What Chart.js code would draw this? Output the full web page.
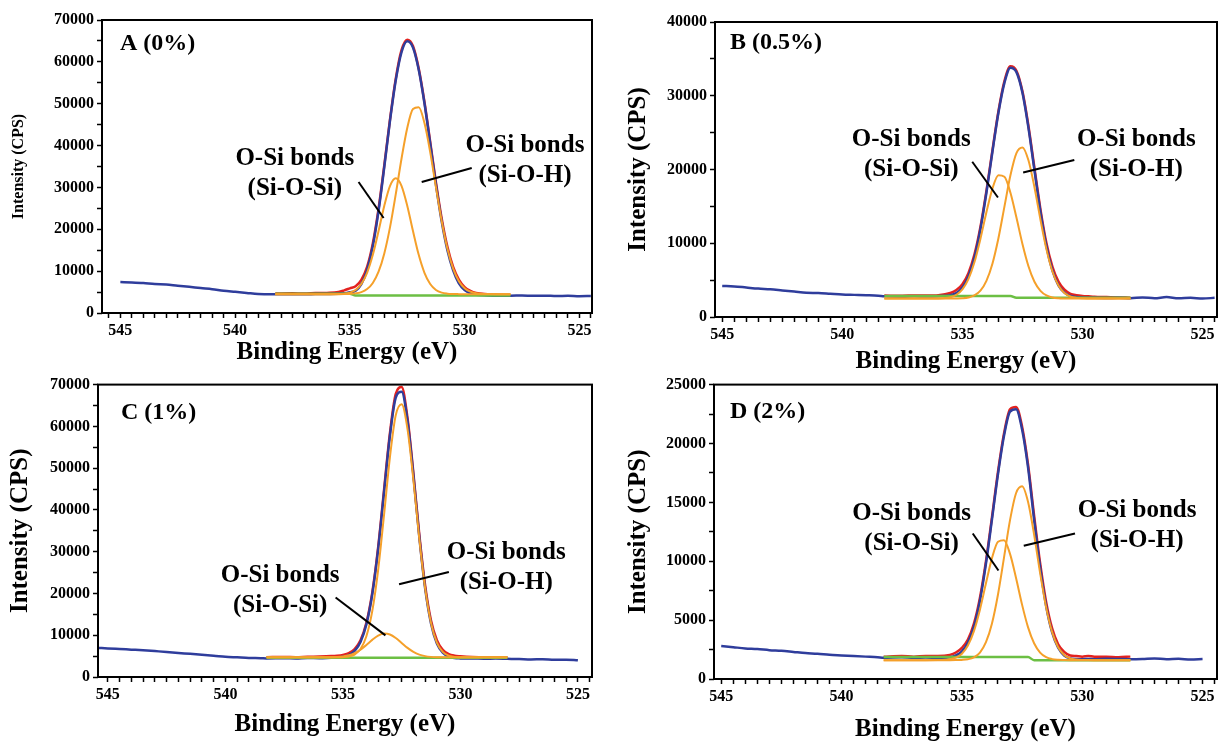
<!DOCTYPE html>
<html>
<head>
<meta charset="utf-8">
<script src="https://cdn.jsdelivr.net/npm/chart.js@4.4.1/dist/chart.umd.min.js"></script>
<style>
  html, body { margin: 0; padding: 0; background: #fff; }
  body { width: 1218px; height: 746px; position: relative; overflow: hidden; }
  .panel { position: absolute; }
</style>
</head>
<body>
<div class="panel" style="left:0;top:0;width:600px;height:372px"><canvas id="chartA"></canvas></div>
<div class="panel" style="left:600px;top:0;width:618px;height:380px"><canvas id="chartB"></canvas></div>
<div class="panel" style="left:0;top:372px;width:600px;height:374px"><canvas id="chartC"></canvas></div>
<div class="panel" style="left:600px;top:372px;width:618px;height:374px"><canvas id="chartD"></canvas></div>
<script>
// binding energies (eV)
const fitEnergy = [538.25, 537.5, 537, 536.5, 536, 535.5, 535.25, 535, 534.75, 534.5, 534.25, 534, 533.75, 533.5, 533.25, 533,
  532.75, 532.5, 532.25, 532, 531.75, 531.5, 531.25, 531, 530.75, 530.5, 530.25, 530, 529.75, 529.5, 529, 528.5, 528];
const wideLeftEnergy = [545.4, 545, 544.5, 544, 543.5, 543, 542.5, 542, 541.5, 541, 540.5, 540, 539.5, 539, 538.5];
const wideRightEnergy = [527.5, 527, 526.5, 526, 525.5, 525, 524.5];

// A (0%)
const aRaw = [null, 7400, 7300, 7150, 6900, 6800, 6500, 6250, 5950, 5700, 5300, 5050, 4800, 4550, 4450,
  4450, 4500, 4480, 4520, 4550, 4600, 4700, 4950, 5300, 6900, 10300, 16000, 24400, 34900, 46000, 55600,
  62300, 64900, 63400, 58100, 50100, 40500, 30700, 21900, 15000, 10200, 7100, 5500, 4700, 4350, 4200, 4150, 4150,
  4200, 4100, 4150, 4050, 4120, 4020, 4080];
const aFit = [4650, 4700, 4650, 4750, 4800, 5000, 5400, 5900, 6400, 7900, 11000, 16600, 24900, 35300, 46300, 56000,
  62800, 65300, 63800, 58400, 50400, 40900, 31200, 22600, 15800, 11000, 8000, 6200, 5300, 4800, 4500, 4350, 4300];
const aSiOSi = [4500, 4500, 4500, 4500, 4500, 4532, 4616, 4866, 5510, 6931, 9613, 13896, 19577, 25640, 30390, 32200,
  30390, 25640, 19577, 13896, 9613, 6931, 5510, 4866, 4616, 4532, 4508, 4500, 4500, 4500, 4500, 4500, 4500];
const aSiOH = [4500, 4500, 4500, 4500, 4500, 4505, 4519, 4563, 4686, 5000, 5716, 7183, 9865, 14233, 20515, 28400,
  36850, 44210, 48720, 49150, 45390, 38470, 30090, 21990, 15340, 10590, 7605, 5935, 5102, 4729, 4525, 4500, 4500];
const aBg = [4600, 4600, 4600, 4600, 4600, 4600, 4600, 4600, 4200, 4200, 4200, 4200, 4200, 4200, 4200, 4200,
  4200, 4200, 4200, 4200, 4200, 4200, 4200, 4200, 4200, 4200, 4200, 4200, 4200, 4200, 4200, 4200, 4200];

// B (0.5%)
const bRaw = [null, 4200, 4150, 4000, 3850, 3750, 3600, 3450, 3300, 3250, 3150, 3050, 3000, 2950, 2880,
  2800, 2750, 2800, 2780, 2820, 2950, 3250, 4000, 5500, 8050, 11900, 16850, 22400, 27700, 31750, 33800,
  33200, 30400, 25650, 19900, 14250, 9550, 6300, 4300, 3300, 2850, 2700, 2650, 2620, 2600, 2580, 2600, 2550,
  2650, 2550, 2700, 2550, 2600, 2500, 2600];
const bFit = [2900, 2880, 2920, 2900, 2950, 3250, 3650, 4450, 5950, 8450, 12200, 17100, 22600, 27900, 32000, 34000,
  33400, 30600, 25900, 20200, 14600, 10000, 6800, 4800, 3700, 3150, 2950, 2850, 2800, 2750, 2700, 2650, 2620];
const bSiOSi = [2500, 2500, 2500, 2500, 2517, 2688, 3014, 3740, 5131, 7416, 10587, 14205, 17414, 19229, 19016, 16853,
  13482, 9895, 6884, 4787, 3551, 2924, 2651, 2547, 2513, 2500, 2500, 2500, 2500, 2500, 2500, 2500, 2500];
const bSiOH = [2500, 2500, 2500, 2500, 2500, 2500, 2512, 2545, 2647, 2924, 3576, 4905, 7229, 10683, 14964, 19213,
  22228, 22999, 21248, 17592, 13194, 9172, 6164, 4271, 3254, 2782, 2593, 2527, 2507, 2500, 2500, 2500, 2500];
const bBg = [2850, 2850, 2850, 2850, 2850, 2850, 2850, 2850, 2850, 2850, 2850, 2850, 2850, 2850, 2850, 2850,
  2600, 2600, 2600, 2600, 2600, 2600, 2600, 2600, 2600, 2600, 2600, 2600, 2600, 2600, 2600, 2600, 2600];

// C (1%)
const cRaw = [6950, 6850, 6700, 6550, 6400, 6200, 6000, 5750, 5550, 5300, 5100, 4850, 4700, 4550, 4500,
  4450, 4500, 4450, 4550, 4500, 4600, 4650, 4850, 5250, 6250, 8400, 12600, 19800, 30600, 44200, 57700,
  66900, 68300, 61300, 48300, 33600, 21200, 12800, 8000, 5800, 4900, 4550, 4450, 4400, 4420, 4380, 4400, 4350,
  4300, 4200, 4250, 4100, 4150, 4000, null];
const cFit = [4750, 4800, 4750, 4850, 4900, 5000, 5100, 5300, 5700, 6700, 8800, 13000, 20200, 31000, 44700, 58300,
  67800, 69400, 62000, 48800, 34200, 21900, 13500, 8800, 6500, 5500, 5100, 4950, 4850, 4800, 4750, 4750, 4700];
const cSiOSi = [4700, 4700, 4700, 4700, 4702, 4726, 4778, 4909, 5191, 5716, 6551, 7666, 8886, 9900, 10386, 10172,
  9336, 8157, 6970, 6012, 5367, 4999, 4818, 4741, 4712, 4700, 4700, 4700, 4700, 4700, 4700, 4700, 4700];
const cSiOH = [4700, 4700, 4700, 4700, 4700, 4700, 4711, 4750, 4898, 5375, 6688, 9752, 15760, 25597, 38742, 52544,
  62691, 65318, 59359, 47199, 33209, 21195, 12926, 8245, 6013, 5121, 4816, 4728, 4706, 4700, 4700, 4700, 4700];
const cBg = [4600, 4600, 4600, 4600, 4600, 4600, 4600, 4600, 4600, 4600, 4600, 4600, 4600, 4600, 4600, 4600,
  4600, 4600, 4600, 4600, 4600, 4600, 4600, 4600, 4600, 4600, 4600, 4600, 4600, 4600, 4600, 4600, 4600];

// D (2%)
const dRaw = [null, 2800, 2700, 2600, 2550, 2450, 2400, 2300, 2200, 2150, 2050, 2000, 1950, 1900, 1850,
  1800, 1850, 1800, 1820, 1780, 1850, 2000, 2350, 3100, 4450, 6650, 9800, 13550, 17400, 20650, 22700,
  22900, 21200, 17950, 13550, 9500, 6200, 3950, 2650, 2000, 1750, 1700, 1680, 1700, 1680, 1720, 1700, 1680,
  1700, 1750, 1680, 1720, 1650, 1700, null];
const dFit = [1900, 1950, 1900, 1950, 1950, 2050, 2250, 2650, 3350, 4700, 6900, 10000, 13750, 17600, 20850, 22900,
  23100, 21450, 18200, 13900, 9850, 6550, 4300, 2950, 2300, 2000, 1950, 1900, 1950, 1900, 1900, 1850, 1900];
const dSiOSi = [1600, 1600, 1600, 1600, 1605, 1670, 1808, 2143, 2837, 4065, 5890, 8123, 10263, 11653, 11790, 10622,
  8579, 6315, 4383, 3036, 2247, 1854, 1687, 1626, 1607, 1600, 1600, 1600, 1600, 1600, 1600, 1600, 1600];
const dSiOH = [1600, 1600, 1600, 1600, 1600, 1600, 1606, 1622, 1679, 1842, 2250, 3124, 4718, 7178, 10313, 13489,
  15774, 16360, 15028, 12271, 9007, 6093, 3980, 2701, 2046, 1757, 1649, 1613, 1603, 1600, 1600, 1600, 1600];
const dBg = [1860, 1860, 1860, 1860, 1860, 1860, 1860, 1860, 1860, 1860, 1860, 1860, 1860, 1860, 1860, 1860,
  1860, 1860, 1860, 1600, 1600, 1600, 1600, 1600, 1600, 1600, 1600, 1600, 1600, 1600, 1600, 1600, 1600];

const rawEnergy = wideLeftEnergy.concat(fitEnergy, wideRightEnergy);
const serif = '"Liberation Serif", "Times New Roman", serif';
const tickFont = { family: serif, size: 16, weight: 'bold' };

const pts = (es, vs) => es.map((e, i) => ({ x: e, y: vs[i] }));

// frame, panel tag and the two peak notes
const panelDecor = {
  id: 'panelDecor',
  afterDatasetsDraw(chart, args, o) {
    const { ctx, chartArea: a, scales: { x, y } } = chart;
    ctx.save();
    ctx.strokeStyle = '#000';
    ctx.fillStyle = '#000';
    ctx.lineWidth = 2;
    ctx.strokeRect(a.left, a.top, a.right - a.left, a.bottom - a.top);
    ctx.textBaseline = 'middle';
    ctx.font = 'bold 24px ' + serif;
    ctx.textAlign = 'left';
    ctx.fillText(o.tag, a.left + o.tagDx, a.top + o.tagDy);
    ctx.font = 'bold 25px ' + serif;
    ctx.textAlign = 'center';
    o.notes.forEach(n => {
      const tx = x.getPixelForValue(n.at[0]);
      const ty = y.getPixelForValue(n.at[1]);
      ctx.fillText('O-Si bonds', tx, ty);
      ctx.fillText(n.sub, tx, ty + 30);
      ctx.beginPath();
      ctx.moveTo(x.getPixelForValue(n.from[0]), y.getPixelForValue(n.from[1]));
      ctx.lineTo(x.getPixelForValue(n.to[0]), y.getPixelForValue(n.to[1]));
      ctx.stroke();
    });
    ctx.restore();
  }
};

function makePanel(id, p) {
  const line = (vals, es, color, w) => ({
    data: pts(es, vals), borderColor: color, borderWidth: w, pointRadius: 0,
    cubicInterpolationMode: 'monotone', spanGaps: false
  });
  new Chart(document.getElementById(id), {
    type: 'line',
    data: {
      datasets: [
        line(p.siOH, fitEnergy, '#f5a02a', 2),
        line(p.siOSi, fitEnergy, '#f5a02a', 2),
        line(p.bg, fitEnergy, '#6cbf44', 2.5),
        line(p.raw, rawEnergy, '#2f3d9c', 2.5),
        line(p.fit, fitEnergy, '#e3221f', 2.5)
      ]
    },
    options: {
      responsive: true,
      maintainAspectRatio: false,
      animation: false,
      layout: { autoPadding: false, padding: { top: p.top, right: p.right, left: 0, bottom: 0 } },
      plugins: {
        legend: { display: false },
        tooltip: { enabled: false },
        panelDecor: { tag: p.tag, tagDx: p.tagDx, tagDy: p.tagDy, notes: p.notes }
      },
      scales: {
        x: {
          type: 'linear', reverse: true, min: p.eMin, max: p.eMax,
          border: { display: false },
          grid: { drawOnChartArea: false, tickLength: 5, tickColor: '#000', tickWidth: 1.5 },
          ticks: {
            stepSize: 0.5, autoSkip: false, maxRotation: 0, minRotation: 0, includeBounds: false,
            maxTicksLimit: 200, padding: 3, color: '#000', font: tickFont,
            callback: v => Math.abs(v % 5) < 1e-6 ? String(v) : ''
          },
          title: { display: true, text: 'Binding Energy (eV)', color: '#000',
            font: { family: serif, size: 25, weight: 'bold' }, padding: { top: 0, bottom: p.xTitlePad } },
          afterFit: s => { s.height = p.xHeight; }
        },
        y: {
          min: 0, max: p.yMax,
          border: { display: false },
          grid: { drawOnChartArea: false, tickLength: 5, tickColor: '#000', tickWidth: 1.5 },
          ticks: {
            stepSize: p.yStep, autoSkip: false, maxTicksLimit: 100, padding: 3, color: '#000', font: tickFont,
            callback: v => v % p.yLabelEvery === 0 ? String(v) : ''
          },
          title: { display: true, text: 'Intensity (CPS)', color: '#000',
            font: { family: serif, size: p.yTitleSize, weight: 'bold' }, padding: { top: p.yTitlePad, bottom: 0 } },
          afterFit: s => { s.width = p.yWidth; }
        }
      }
    },
    plugins: [panelDecor]
  });
}

makePanel('chartA', {
  raw: aRaw, fit: aFit, siOSi: aSiOSi, siOH: aSiOH, bg: aBg,
  eMin: 524.45, eMax: 545.8, yMax: 70000, yStep: 5000, yLabelEvery: 10000,
  top: 20, right: 8, yWidth: 102, xHeight: 59, xTitlePad: 4, yTitleSize: 16, yTitlePad: 9,
  tag: 'A (0%)', tagDx: 18, tagDy: 24,
  notes: [
    { sub: '(Si-O-Si)', at: [537.4, 36800], from: [534.62, 31300], to: [533.53, 22700] },
    { sub: '(Si-O-H)', at: [527.37, 39900], from: [529.69, 34650], to: [531.87, 31300] }
  ]
});
makePanel('chartB', {
  raw: bRaw, fit: bFit, siOSi: bSiOSi, siOH: bSiOH, bg: bBg,
  eMin: 524.4, eMax: 545.3, yMax: 40000, yStep: 5000, yLabelEvery: 10000,
  top: 22, right: 1, yWidth: 115, xHeight: 63, xTitlePad: 3, yTitleSize: 25, yTitlePad: 24,
  tag: 'B (0.5%)', tagDx: 15, tagDy: 21,
  notes: [
    { sub: '(Si-O-Si)', at: [537.13, 24100], from: [534.59, 21050], to: [533.52, 16200] },
    { sub: '(Si-O-H)', at: [527.76, 24100], from: [530.34, 21300], to: [532.47, 19600] }
  ]
});
makePanel('chartC', {
  raw: cRaw, fit: cFit, siOSi: cSiOSi, siOH: cSiOH, bg: cBg,
  eMin: 524.4, eMax: 545.42, yMax: 70000, yStep: 5000, yLabelEvery: 10000,
  top: 10, right: 8, yWidth: 98, xHeight: 69, xTitlePad: 6, yTitleSize: 25, yTitlePad: 6,
  tag: 'C (1%)', tagDx: 23, tagDy: 28,
  notes: [
    { sub: '(Si-O-Si)', at: [537.67, 24200], from: [535.31, 19050], to: [533.19, 9970] },
    { sub: '(Si-O-H)', at: [528.05, 29700], from: [530.49, 25150], to: [532.61, 22200] }
  ]
});
makePanel('chartD', {
  raw: dRaw, fit: dFit, siOSi: dSiOSi, siOH: dSiOH, bg: dBg,
  eMin: 524.4, eMax: 545.3, yMax: 25000, yStep: 2500, yLabelEvery: 5000,
  top: 11, right: 1, yWidth: 114, xHeight: 67, xTitlePad: 1, yTitleSize: 25, yTitlePad: 24,
  tag: 'D (2%)', tagDx: 16, tagDy: 27,
  notes: [
    { sub: '(Si-O-Si)', at: [537.09, 14050], from: [534.55, 12360], to: [533.48, 9210] },
    { sub: '(Si-O-H)', at: [527.72, 14340], from: [530.3, 12360], to: [532.43, 11320] }
  ]
});
</script>
</body>
</html>
